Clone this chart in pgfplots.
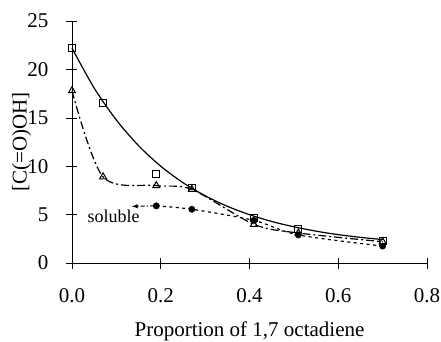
\documentclass[border=0pt]{standalone}
\usepackage{fontspec}
\setmainfont{Liberation Serif}
\usepackage{pgfplots}
\pgfplotsset{compat=1.18}
\begin{document}
\fontsize{21}{25}\selectfont
\begin{tikzpicture}
\path[use as bounding box] (-72pt,-79pt) rectangle (369pt,263pt);
\begin{axis}[
  at={(0,0)}, anchor=south west,
  scale only axis, width=355pt, height=242pt,
  xmin=0, xmax=0.8, ymin=0, ymax=25,
  axis x line=bottom, axis y line=left,
  axis line style={-, line width=0.8pt},
  xtick={0,0.2,0.4,0.6,0.8}, ytick={0,5,10,15,20,25},
  tick align=center, major tick length=11pt,
  tick style={line width=0.6pt, black},
  /pgf/number format/assume math mode=true,
  xticklabel style={/pgf/number format/fixed, /pgf/number format/precision=1, /pgf/number format/fixed zerofill, yshift=-13pt},
  yticklabel style={xshift=-11pt},
  xlabel={Proportion of 1,7 octadiene},
  ylabel={[C(=O)OH]},
  xlabel style={yshift=-11pt, inner sep=1pt},
  ylabel style={yshift=-18pt},
  clip=false,
]
% fitted trend (solid)
\addplot[black, line width=1.2pt, smooth] coordinates {
(0,22.2) (0.05,18.07) (0.1,14.77) (0.15,12.12) (0.2,10.0) (0.25,8.30) (0.3,6.95)
(0.35,5.86) (0.4,4.99) (0.45,4.29) (0.5,3.74) (0.55,3.29) (0.6,2.93) (0.65,2.65) (0.7,2.42)};
% triangles, dash-dot
\addplot[black, line width=1.2pt, smooth, tension=0.5, dash pattern=on 8pt off 3pt on 2pt off 3pt] coordinates {
(0,17.8) (0.07,8.9) (0.19,8.0) (0.27,7.6) (0.41,4.0) (0.51,3.1) (0.70,2.2)};
\addplot[only marks, mark=triangle, mark size=4pt, mark options={solid, line width=1pt, fill=white}] coordinates {
(0,17.8) (0.07,8.9) (0.19,8.0) (0.27,7.6) (0.41,4.0) (0.51,3.1) (0.70,2.2)};
% circles, dotted
\addplot[black, line width=1.2pt, smooth, tension=0.5, dash pattern=on 3pt off 3.5pt] coordinates {
(0.19,5.9) (0.27,5.55) (0.41,4.4) (0.51,2.9) (0.70,1.75)};
\addplot[only marks, mark=*, mark size=3.2pt, mark options={solid, fill=black}] coordinates {
(0.19,5.9) (0.27,5.55) (0.41,4.4) (0.51,2.9) (0.70,1.75)};
% squares
\addplot[only marks, mark=square, mark size=3.5pt, mark options={solid, line width=1pt, fill=white}] coordinates {
(0,22.2) (0.07,16.5) (0.19,9.2) (0.27,7.7) (0.41,4.6) (0.51,3.5) (0.70,2.3)};
% soluble arrow
\addplot[black, line width=1pt, -latex, dash pattern=on 4pt off 2pt on 1.5pt off 2pt] coordinates {(0.185,5.9) (0.135,5.85)};
\node[font=\fontsize{18}{20}\selectfont] at (axis cs:0.094,4.78) {soluble};
\end{axis}
\end{tikzpicture}
\end{document}
